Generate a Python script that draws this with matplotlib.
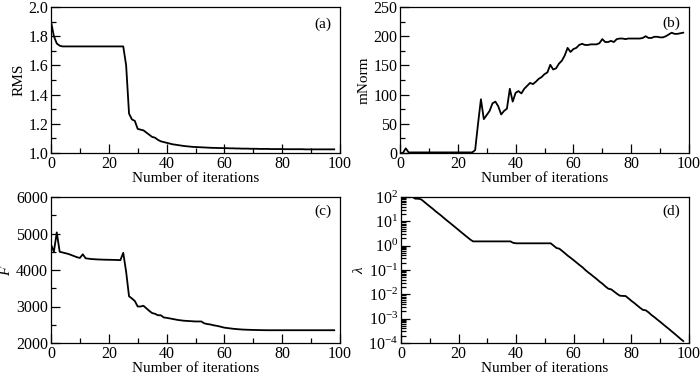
import matplotlib
matplotlib.use("Agg")
import matplotlib.pyplot as plt
from matplotlib.ticker import MultipleLocator, LogLocator, LogFormatterSciNotation, NullFormatter

plt.rcParams['font.family'] = ['Liberation Serif', 'DejaVu Serif']
plt.rcParams['mathtext.fontset'] = 'custom'
plt.rcParams['mathtext.rm'] = 'Liberation Serif'
plt.rcParams['mathtext.it'] = 'Liberation Serif:italic'

iterations = list(range(0, 99))

rms = [1.90, 1.80, 1.75, 1.735] + [1.73] * 22 + [
    1.60, 1.27, 1.23, 1.22, 1.165, 1.16, 1.155, 1.14, 1.125, 1.11,
    1.105, 1.09, 1.08, 1.075, 1.07, 1.065, 1.06, 1.057, 1.054, 1.051,
    1.048, 1.046, 1.044, 1.042, 1.041, 1.040, 1.039, 1.038, 1.037, 1.036,
    1.035, 1.035, 1.034, 1.034, 1.033, 1.033, 1.032, 1.032, 1.031, 1.031,
    1.030, 1.030, 1.030, 1.029, 1.029, 1.029, 1.028, 1.028, 1.028, 1.028,
    1.027, 1.027, 1.027, 1.027, 1.027, 1.026, 1.026, 1.026, 1.026, 1.026,
    1.026, 1.026, 1.025, 1.025, 1.025, 1.025, 1.025, 1.025, 1.025, 1.025,
    1.025, 1.025, 1.025]

mnorm = [0, 0, 8, 1] + [1] * 22 + [
    5, 50, 92, 58, 65, 72, 85, 88, 80, 66,
    72, 76, 110, 88, 103, 106, 102, 110, 115, 120,
    118, 122, 127, 130, 135, 138, 151, 143, 145, 153,
    158, 167, 180, 173, 178, 180, 185, 187, 185, 185,
    186, 186, 186, 188, 195, 190, 190, 192, 190, 195,
    196, 196, 195, 196, 196, 196, 196, 196, 197, 200,
    197, 197, 199, 199, 198, 198, 200, 203, 206, 204,
    204, 205, 206]

fval = [4700, 4500, 5030, 4500, 4480, 4460, 4440, 4410, 4380, 4350,
        4330, 4430, 4320, 4310, 4300, 4295, 4290, 4287, 4284, 4281,
        4280, 4278, 4276, 4274, 4270, 4470, 3950, 3280, 3220, 3150,
        3000, 3000, 3020, 2950, 2880, 2820, 2800, 2760, 2760, 2700,
        2690, 2675, 2660, 2645, 2630, 2620, 2610, 2605, 2600, 2595,
        2590, 2590, 2590, 2540, 2520, 2510, 2490, 2475, 2460, 2440,
        2420, 2410, 2400, 2390, 2383, 2376, 2370, 2366, 2363, 2360,
        2358, 2356, 2354, 2352, 2351, 2350, 2350, 2350, 2350, 2350,
        2350, 2350, 2350, 2350, 2350, 2350, 2350, 2350, 2350, 2350,
        2350, 2350, 2350, 2350, 2350, 2350, 2350, 2350, 2350]

lam = [100, 100, 100, 100, 100, 85, 85, 80, 64, 51,
       41, 33, 26, 21, 17, 13.4, 10.7, 8.6, 6.9, 5.5,
       4.4, 3.5, 2.8, 2.25, 1.8, 1.5, 1.5, 1.5, 1.5, 1.5,
       1.5, 1.5, 1.5, 1.5, 1.5, 1.5, 1.5, 1.5, 1.5, 1.3,
       1.25, 1.25, 1.25, 1.25, 1.25, 1.25, 1.25, 1.25, 1.25, 1.25,
       1.25, 1.25, 1.25, 1.0, 0.8, 0.75, 0.6, 0.48, 0.38, 0.31,
       0.25, 0.2, 0.16, 0.13, 0.1, 0.08, 0.065, 0.052, 0.042, 0.033,
       0.027, 0.021, 0.017, 0.016, 0.013, 0.0105, 0.0088, 0.0086, 0.0085, 0.0068,
       0.0054, 0.0044, 0.0035, 0.0028, 0.0023, 0.0022, 0.0018, 0.0014, 0.00115, 0.00092,
       0.00074, 0.00059, 0.00047, 0.00038, 0.0003, 0.00024, 0.00019, 0.00015, 0.00012]

fig = plt.figure(figsize=(7.0, 3.78), dpi=100)
W, H = 700, 378
def ax_at(l, t, r, b):
    return fig.add_axes([l / W, 1 - b / H, (r - l) / W, (b - t) / H])

axa = ax_at(51, 7, 340, 153)
axb = ax_at(400, 7, 689, 153)
axc = ax_at(51, 197, 340, 343)
axd = ax_at(401, 197, 689, 343)

fs = 11
tfs = 11.5
for ax in (axa, axb, axc, axd):
    ax.set_xlim(0, 100)
    ax.xaxis.set_major_locator(MultipleLocator(20))
    ax.xaxis.set_minor_locator(MultipleLocator(10))
    ax.tick_params(which='both', direction='in', top=False, right=False,
                   labelsize=tfs, pad=2)
    ax.tick_params(which='major', length=6.5, width=0.9)
    ax.tick_params(which='minor', length=3.5, width=0.9)
    ax.set_xlabel('Number of iterations', fontsize=fs, labelpad=0)
    for s in ax.spines.values():
        s.set_linewidth(0.9)

lw = 1.3
axa.plot(iterations, rms, color='black', lw=lw)
axa.set_ylim(1.0, 2.0)
axa.yaxis.set_major_locator(MultipleLocator(0.2))
axa.yaxis.set_minor_locator(MultipleLocator(0.1))
axa.set_ylabel('RMS', fontsize=fs, labelpad=2)
axa.text(0.94, 0.88, '(a)', transform=axa.transAxes, fontsize=fs, ha='center', va='center')

axb.plot(iterations, mnorm, color='black', lw=lw)
axb.set_ylim(0, 250)
axb.yaxis.set_major_locator(MultipleLocator(50))
axb.yaxis.set_minor_locator(MultipleLocator(25))
axb.set_ylabel('mNorm', fontsize=fs, labelpad=2)
axb.text(0.94, 0.89, '(b)', transform=axb.transAxes, fontsize=fs, ha='center', va='center')

axc.plot(iterations, fval, color='black', lw=lw)
axc.set_ylim(2000, 6000)
axc.yaxis.set_major_locator(MultipleLocator(1000))
axc.yaxis.set_minor_locator(MultipleLocator(500))
axc.set_ylabel('$F$', fontsize=fs, labelpad=2)
axc.text(0.94, 0.90, '(c)', transform=axc.transAxes, fontsize=fs, ha='center', va='center')

axd.semilogy(iterations, lam, color='black', lw=lw)
axd.set_ylim(1e-4, 1e2)
axd.yaxis.set_major_locator(LogLocator(base=10, numticks=10))
axd.yaxis.set_minor_locator(LogLocator(base=10, subs=range(2, 10), numticks=20))
axd.yaxis.set_minor_formatter(NullFormatter())
axd.yaxis.set_major_formatter(LogFormatterSciNotation())
axd.set_ylabel(r'$\lambda$', fontsize=fs, labelpad=2)
axd.text(0.94, 0.90, '(d)', transform=axd.transAxes, fontsize=fs, ha='center', va='center')

fig.savefig('out.png', dpi=100)
